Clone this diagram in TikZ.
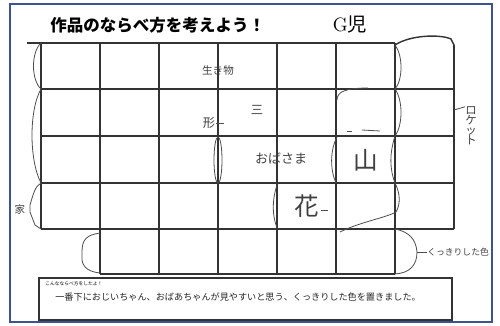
\documentclass[tikz,border=0pt]{standalone}
\usepackage{fontspec}
\newfontfamily\jp{Noto Sans CJK JP}
\definecolor{frameblue}{RGB}{62,82,142}
\begin{document}
\begin{tikzpicture}[x=0.02cm,y=-0.02cm,
  grid line/.style={draw=black!80,line width=0.8pt},
  pen line/.style={draw=black!70,line width=0.45pt},
  hand label/.style={inner sep=0pt,text=black!75,font=\jp\fontsize{#1}{#1}\selectfont},
  hand label/.default=6]
  \useasboundingbox (0,0) rectangle (500,325);
  \fill[white] (0,0) rectangle (500,325);
  \draw[frameblue,line width=1.2pt] (10,4) rectangle (492,322);

  % heading
  \node[anchor=west,inner sep=0pt,font=\jp\bfseries\fontsize{9.4}{10}\selectfont] (title) at (50,25) {作品のならべ方を考えよう！};
  \node[inner sep=0pt,font=\fontsize{11}{12}\selectfont] (child) at (350,24) {G{\jp 児}};

  % grid
  \draw[grid line] (27,43) -- (395,43);
  \foreach \y in {89,136,183,229}
    \draw[grid line] (41,\y) -- (454,\y);
  \draw[grid line] (100,274) -- (395,274);
  \draw[grid line] (41,43) -- (41,229);
  \foreach \x in {100,159,...,395}
    \draw[grid line] (\x,43) -- (\x,274);
  \draw[grid line] (454,45) -- (454,229);
  \draw[grid line] (395,45) .. controls (410,35) and (440,34) .. (451,39) -- (454,45);

  % groups drawn by hand
  \draw[pen line] (41,43) .. controls (31,52) and (31,80) .. (41,89);
  \draw[pen line] (41,89) .. controls (29,110) and (29,160) .. (41,183);
  \draw[pen line] (41,183) .. controls (35,186) and (33,195) .. (30,205) -- (30,212) -- (35,225) -- (41,229);
  \draw[pen line] (218,160) ellipse [x radius=4,y radius=23];
  \draw[pen line] (337,137) .. controls (330,150) and (330,170) .. (336,183);
  \draw[pen line] (395,45) .. controls (403,55) and (403,80) .. (395,89);
  \draw[pen line] (395,89) .. controls (403,100) and (403,125) .. (395,136);
  \draw[pen line] (337,100) .. controls (337,92) and (345,88) .. (368,88);
  \draw[pen line] (395,136) .. controls (389,155) and (390,170) .. (395,183);
  \draw[pen line] (395,183) .. controls (401,195) and (400,205) .. (396,212)
    .. controls (385,218) and (360,222) .. (340,232);
  \draw[pen line] (277,185) .. controls (272,200) and (272,215) .. (277,228);
  \draw[pen line] (100,233) .. controls (86,235) and (82,240) .. (82,252) -- (82,260)
    .. controls (83,268) and (90,272) .. (100,273);
  \draw[pen line] (395,229) .. controls (410,232) and (416,240) .. (417,252)
    .. controls (417,265) and (410,273) .. (395,274);
  \draw[pen line] (347,131) -- (352,131);
  \draw[pen line] (362,130) -- (380,131);

  % labels
  \node[hand label=6] (living) at (218,70) {生き物};
  \node[hand label=7] (three) at (257,110) {三};
  \node[hand label=7] (shape) at (209,123) {形};
  \node[hand label=7.4] (granny) at (281,158) {おばさま};
  \node[hand label=14] (mount) at (366,160) {山};
  \node[hand label=14] (flower) at (307,206) {花};
  \node[hand label=6] (house) at (20,210) {家};
  \node[hand label,align=center,font=\jp\fontsize{6.5}{5.6}\selectfont] (rocket) at (471,126) {ロ\\ケ\\ッ\\ト};
  \node[hand label=5,anchor=west] (vivid) at (427,252) {くっきりした色};
  \draw[pen line] (shape.east) -- ++(8,0);
  \draw[pen line] (flower.east) ++(1,4) -- ++(7,0);
  \coordinate (rk) at (454,110);
  \draw[pen line] (rk) .. controls (460,109) .. (rocket.north west);
  \coordinate (bt) at (417,252);
  \draw[pen line] (bt) -- (vivid.west);

  % comment box
  \draw[grid line,line width=0.6pt] (39,278) rectangle (452,320);
  \node[anchor=west,inner sep=0pt,font=\jp\fontsize{2.7}{3}\selectfont] (note) at (45,284) {こんなならべ方をしたよ！};
  \node[hand label=5.2,anchor=west,text=black!85] (reason) at (55,297) {一番下におじいちゃん、おばあちゃんが見やすいと思う、くっきりした色を置きました。};
\end{tikzpicture}
\end{document}
